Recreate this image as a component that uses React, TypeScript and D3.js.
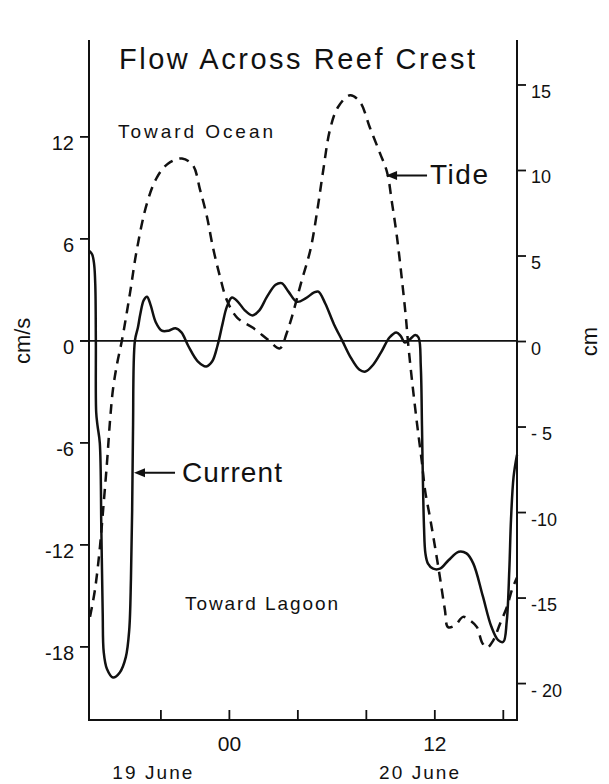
import React from "react";
import * as d3 from "d3";

// time in hours since 00:00, 19 June
const currentTime = [15.8, 15.98, 16.1, 16.17, 16.2, 16.22, 16.3, 16.43, 16.52, 16.6, 16.66, 16.85, 17.2, 17.6, 17.95, 18.15, 18.25, 18.32, 18.37, 18.48, 18.66, 18.8, 19.0, 19.19, 19.4, 19.7, 20.05, 20.45, 20.85, 21.2, 21.6, 22.15, 22.65, 23.0, 23.3, 23.6, 23.85, 24.15, 24.5, 24.9, 25.35, 25.75, 26.2, 26.7, 27.05, 27.45, 27.95, 28.45, 28.95, 29.2, 29.6, 30.1, 30.6, 31.1, 31.6, 31.95, 32.4, 32.9, 33.35, 33.75, 34.0, 34.25, 34.55, 34.85, 35.05, 35.18, 35.25, 35.3, 35.37, 35.45, 35.6, 35.9, 36.3, 36.8, 37.4, 37.85, 38.25, 38.8, 39.3, 39.7, 40.0, 40.2, 40.35, 40.45, 40.6, 40.8];
const currentValues = [5.3, 5.1, 4.5, 3.2, 0.0, -4.2, -5.0, -6.0, -11.0, -16.0, -18.3, -19.3, -19.8, -19.5, -18.6, -17.0, -14.0, -10.0, -5.3, 0.0, 0.8, 1.6, 2.4, 2.6, 2.1, 1.1, 0.6, 0.6, 0.75, 0.5, -0.3, -1.2, -1.5, -1.2, -0.3, 1.0, 2.0, 2.55, 2.3, 1.8, 1.5, 1.8, 2.6, 3.3, 3.4, 2.9, 2.3, 2.5, 2.85, 2.9, 2.2, 1.0, 0.0, -1.0, -1.7, -1.8, -1.4, -0.6, 0.2, 0.5, 0.3, -0.1, 0.1, 0.35, 0.2, -1.5, -5.0, -8.0, -11.0, -12.5, -13.1, -13.4, -13.4, -12.9, -12.4, -12.5, -13.1, -15.0, -16.8, -17.6, -17.7, -16.5, -13.5, -10.5, -8.0, -6.7];

const tideTime = [15.86, 16.15, 16.44, 16.62, 16.85, 17.03, 17.2, 17.44, 17.73, 18.19, 18.6, 19.19, 19.77, 20.41, 21.23, 21.87, 22.28, 22.69, 23.04, 23.45, 23.86, 24.45, 25.38, 26.26, 26.95, 27.35, 27.64, 28.18, 28.74, 29.14, 29.48, 29.88, 30.34, 31.05, 31.63, 32.21, 32.8, 33.21, 33.5, 33.79, 34.08, 34.32, 34.43, 34.67, 34.96, 35.25, 35.43, 35.72, 36.01, 36.3, 36.59, 36.77, 37.18, 37.65, 38.05, 38.46, 38.76, 39.05, 39.4, 39.81, 40.22, 40.51, 40.8];
const tideValues = [-16.1, -14.5, -12.0, -9.9, -7.1, -4.6, -2.8, -1.3, 0.1, 2.8, 5.4, 8.1, 9.6, 10.4, 10.7, 10.3, 8.9, 7.3, 5.5, 3.8, 2.4, 1.4, 0.8, 0.1, -0.4, 0.5, 1.4, 3.4, 5.4, 7.7, 10.0, 12.4, 13.7, 14.4, 14.0, 12.5, 11.0, 9.9, 8.1, 6.1, 3.6, 1.3, 0.0, -2.3, -4.8, -7.1, -8.7, -10.3, -12.0, -13.8, -15.7, -16.7, -16.6, -16.1, -16.3, -16.7, -17.6, -17.9, -17.5, -16.5, -15.5, -14.5, -13.8];

const leftTicks = [12, 6, 0, -6, -12, -18];
const rightTicks = [15, 10, 5, 0, -5, -10, -15, -20];
const rightTickLabels = ["15", "10", "5", "0", "- 5", "-10", "-15", "- 20"];
const timeTicks = [20, 24, 28, 32, 36, 40];
const timeLabels = [{ t: 24, label: "00" }, { t: 36, label: "12" }];
const dayLabels = [{ t: 19.5, label: "19 June" }, { t: 35.08, label: "20 June" }];

const FONT = "'Liberation Sans', Arial, sans-serif";

export default function App() {
  const left = 89, right = 517, top = 40, bottom = 720;
  const x = d3.scaleLinear().domain([15.8, 40.8]).range([left, right]);
  const yL = d3.scaleLinear().domain([-22.3, 17.7]).range([bottom, top]);
  const yR = d3.scaleLinear().domain([-22.13, 17.63]).range([bottom, top]);

  const cur = currentTime.map((t, i) => [t, currentValues[i]] as [number, number]);
  const tide = tideTime.map((t, i) => [t, tideValues[i]] as [number, number]);

  const curLine = d3.line<[number, number]>()
    .x(d => x(d[0])).y(d => yL(d[1]))
    .curve(d3.curveCatmullRom.alpha(0.5));
  const tideLine = d3.line<[number, number]>()
    .x(d => x(d[0])).y(d => yR(d[1]))
    .curve(d3.curveCatmullRom.alpha(0.5));

  const ink = "#111";

  // annotation anchors in data space
  const curArrowTip = { x: x(18.43), y: yL(-7.75) };
  const tideArrowTip = { x: x(33.15), y: yR(9.7) };

  return (
    <svg width={609} height={784} style={{ position: "absolute", left: 0, top: 0, background: "#fff" }}
      fontFamily={FONT}>
      <rect x={0} y={0} width={609} height={784} fill="#fff" />
      {/* frame */}
      <line x1={left} x2={left} y1={top} y2={bottom} stroke={ink} strokeWidth={2} />
      <line x1={right} x2={right} y1={top} y2={bottom} stroke={ink} strokeWidth={2} />
      <line x1={left - 1} x2={right + 1} y1={bottom} y2={bottom} stroke={ink} strokeWidth={2} />
      {/* zero line */}
      <line x1={left - 9} x2={right} y1={yL(0)} y2={yL(0)} stroke={ink} strokeWidth={1.6} />

      {/* left ticks */}
      {leftTicks.map(v => (
        <g key={"l" + v}>
          <line x1={left - 9} x2={left} y1={yL(v)} y2={yL(v)} stroke={ink} strokeWidth={1.8} />
          <text x={left - 15} y={yL(v) + 13} textAnchor="end" fontSize={20} fill={ink}>{v}</text>
        </g>
      ))}
      {/* right ticks */}
      {rightTicks.map((v, i) => (
        <g key={"r" + v}>
          <line x1={right} x2={right + 9} y1={yR(v)} y2={yR(v)} stroke={ink} strokeWidth={1.8} />
          <text x={right + 14} y={yR(v) + 13} textAnchor="start" fontSize={18} fill={ink}>{rightTickLabels[i]}</text>
        </g>
      ))}
      {/* bottom ticks */}
      {timeTicks.map(t => (
        <line key={"t" + t} x1={x(t)} x2={x(t)} y1={bottom} y2={bottom - 10} stroke={ink} strokeWidth={1.8} />
      ))}
      {timeLabels.map(d => (
        <text key={d.label} x={x(d.t)} y={751} textAnchor="middle" fontSize={21} fill={ink}>{d.label}</text>
      ))}
      {dayLabels.map(d => (
        <text key={d.label} x={x(d.t)} y={779} textAnchor="middle" fontSize={19} fill={ink}
          textLength={80} lengthAdjust="spacing">{d.label}</text>
      ))}

      {/* axis titles */}
      <text transform={`translate(30, ${yL(0)}) rotate(-90)`} textAnchor="middle" fontSize={22} fill={ink}>cm/s</text>
      <text transform={`translate(597, ${yR(0)}) rotate(-90)`} textAnchor="middle" fontSize={22} fill={ink}>cm</text>

      {/* title */}
      <text x={119} y={69} fontSize={29} fill={ink} textLength={356} lengthAdjust="spacing">Flow Across Reef Crest</text>
      <text x={118} y={138} fontSize={19} fill={ink} textLength={155} lengthAdjust="spacing">Toward Ocean</text>
      <text x={185} y={610} fontSize={19} fill={ink} textLength={153} lengthAdjust="spacing">Toward Lagoon</text>

      {/* data */}
      <path d={tideLine(tide) || ""} fill="none" stroke={ink} strokeWidth={2.5} strokeDasharray="10,7" />
      <path d={curLine(cur) || ""} fill="none" stroke={ink} strokeWidth={2.5} />

      {/* Current annotation */}
      <line x1={curArrowTip.x + 8} x2={curArrowTip.x + 41} y1={curArrowTip.y} y2={curArrowTip.y} stroke={ink} strokeWidth={2} />
      <path d={`M${curArrowTip.x},${curArrowTip.y} l11,-4.5 l0,9 z`} fill={ink} />
      <text x={182} y={482} fontSize={28} fill={ink} textLength={100} lengthAdjust="spacing">Current</text>

      {/* Tide annotation */}
      <line x1={tideArrowTip.x + 8} x2={tideArrowTip.x + 41} y1={tideArrowTip.y} y2={tideArrowTip.y} stroke={ink} strokeWidth={2} />
      <path d={`M${tideArrowTip.x},${tideArrowTip.y} l11,-4.5 l0,9 z`} fill={ink} />
      <text x={430} y={184} fontSize={28} fill={ink} textLength={58} lengthAdjust="spacing">Tide</text>
    </svg>
  );
}
